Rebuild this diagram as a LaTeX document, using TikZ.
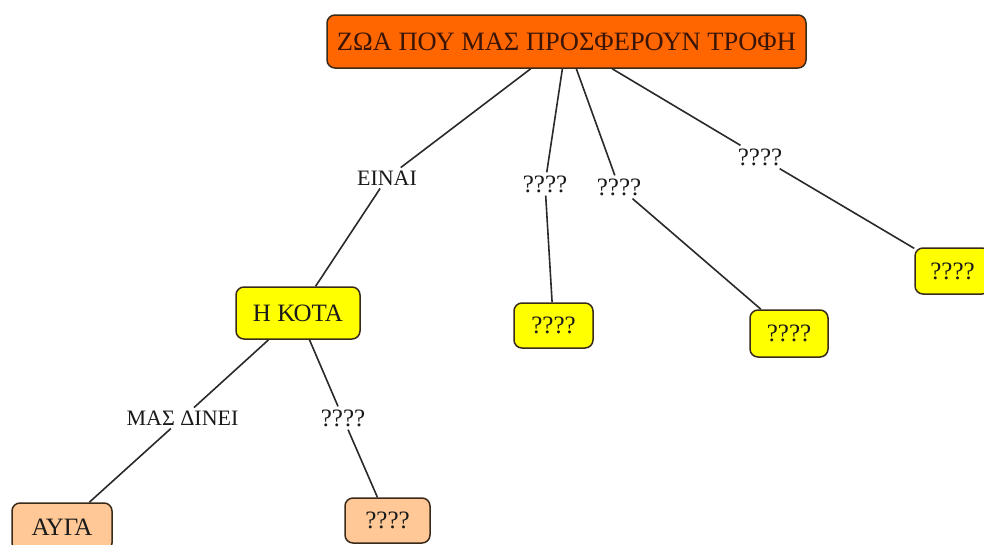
\documentclass[tikz,border=0pt]{standalone}
\usepackage{fontspec}
\setmainfont{Liberation Serif}
\definecolor{orangefill}{HTML}{FF6600}
\definecolor{yellowfill}{HTML}{FFFF00}
\definecolor{peachfill}{HTML}{FFC896}
\definecolor{boxline}{HTML}{3A2A1A}
\definecolor{txt}{HTML}{1A1A1A}
\definecolor{roottxt}{HTML}{3A1505}
\definecolor{connline}{HTML}{2A2A2A}
\begin{document}
\begin{tikzpicture}[x=1pt,y=-1pt,
  box/.style={draw=boxline, line width=1.5pt, rounded corners=8pt, inner sep=0pt,
    text=txt, font=\fontsize{25}{27}\selectfont, align=center},
  rootbox/.style={box, fill=orangefill, text=roottxt, font=\fontsize{26.5}{28}\selectfont},
  ybox/.style={box, fill=yellowfill},
  pbox/.style={box, fill=peachfill},
  lbl/.style={inner sep=3pt, text=txt, font=\fontsize{22}{24}\selectfont},
  qlbl/.style={lbl, font=\fontsize{25}{27}\selectfont},
  conn/.style={draw=connline, line width=1.6pt}
]
\useasboundingbox (0,0) rectangle (984,544);
\fill[white] (0,0) rectangle (984,544);

% boxes
\node[rootbox, minimum width=479pt, minimum height=53pt] (root) at (566.5,41.5) {ΖΩΑ ΠΟΥ ΜΑΣ ΠΡΟΣΦΕΡΟΥΝ ΤΡΟΦΗ};
\node[ybox, minimum width=124pt, minimum height=52pt] (kota) at (298,313) {Η ΚΟΤΑ};
\node[ybox, minimum width=79pt, minimum height=45pt] (m1) at (553.5,325.5) {????};
\node[ybox, minimum width=78pt, minimum height=47pt] (m2) at (789,333.5) {????};
\node[ybox, minimum width=75pt, minimum height=46pt] (m3) at (952.5,271) {????};
\node[pbox, minimum width=100pt, minimum height=48pt] (egg) at (62,527) {ΑΥΓΑ};
\node[pbox, minimum width=85pt, minimum height=45pt] (b2) at (387.5,520.5) {????};

% labels
\node[lbl] (l1) at (387,178) {ΕΙΝΑΙ};
\node[qlbl] (l2) at (545,184) {????};
\node[qlbl] (l3) at (619,187) {????};
\node[qlbl] (l4) at (760,157) {????};
\node[lbl] (l5) at (182.5,418) {ΜΑΣ ΔΙΝΕΙ};
\node[qlbl] (l6) at (343,418) {????};

% connectors
\draw[conn] (root) -- (l1) -- (kota);
\draw[conn] (root) -- (l2) -- (m1);
\draw[conn] (root) -- (l3) -- (m2);
\draw[conn] (root) -- (l4) -- (m3);
\draw[conn] (kota) -- (l5) -- (egg);
\draw[conn] (kota) -- (l6) -- (b2);
\end{tikzpicture}
\end{document}
